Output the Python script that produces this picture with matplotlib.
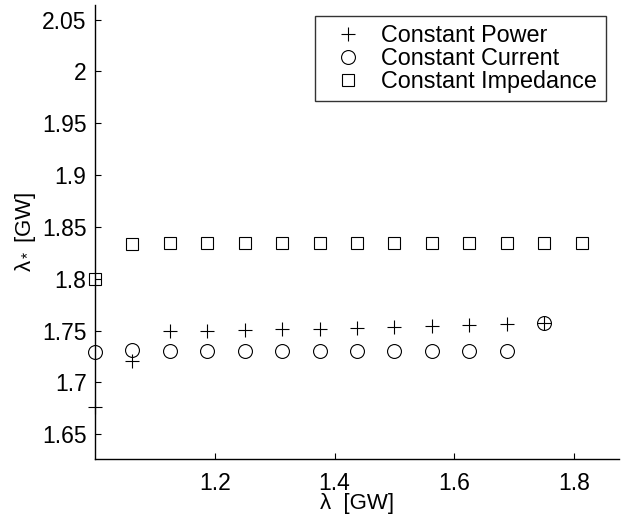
import numpy as np
import matplotlib
matplotlib.use("Agg")
import matplotlib.pyplot as plt

plt.rcParams['font.family'] = ['Liberation Sans', 'DejaVu Sans']
plt.rcParams['mathtext.fontset'] = 'custom'
plt.rcParams['mathtext.rm'] = 'Liberation Sans'
plt.rcParams['mathtext.it'] = 'Liberation Sans'

# load parameter lambda [GW]
lam_power = [1.0, 1.0625, 1.125, 1.1875, 1.25, 1.3125, 1.375, 1.4375,
             1.5, 1.5625, 1.625, 1.6875, 1.75]
val_power = [1.676, 1.721, 1.7493, 1.7500, 1.7507, 1.7513, 1.7518, 1.7525,
             1.7535, 1.7545, 1.7555, 1.7565, 1.7575]

lam_current = [1.0, 1.0625, 1.125, 1.1875, 1.25, 1.3125, 1.375, 1.4375,
               1.5, 1.5625, 1.625, 1.6875, 1.75]
val_current = [1.7298, 1.7312, 1.7302, 1.7302, 1.7302, 1.7302, 1.7302, 1.7302,
               1.7302, 1.7302, 1.7302, 1.7302, 1.7575]

lam_imped = [1.0, 1.0625, 1.125, 1.1875, 1.25, 1.3125, 1.375, 1.4375,
             1.5, 1.5625, 1.625, 1.6875, 1.75, 1.8125]
val_imped = [1.8, 1.8339, 1.8341, 1.8343, 1.8345, 1.8346, 1.8347, 1.8348,
             1.8349, 1.8349, 1.8349, 1.8349, 1.8349, 1.8349]

xticks = [1.2, 1.4, 1.6, 1.8]
yticks = [1.65, 1.7, 1.75, 1.8, 1.85, 1.9, 1.95, 2.0, 2.05]
ytick_labels = ['1.65', '1.7', '1.75', '1.8', '1.85', '1.9', '1.95', '2', '2.05']

fig = plt.figure(figsize=(6.37, 5.17), dpi=100)
ax = fig.add_axes([0.149, 0.112, 0.823, 0.878])

ax.plot(lam_power, val_power, linestyle='none', marker='+', color='black',
        markersize=10, markeredgewidth=0.8, clip_on=False, label='Constant Power')
ax.plot(lam_current, val_current, linestyle='none', marker='o', color='black',
        markerfacecolor='none', markersize=10, markeredgewidth=0.8, clip_on=False,
        label='Constant Current')
ax.plot(lam_imped, val_imped, linestyle='none', marker='s', color='black',
        markerfacecolor='none', markersize=8, markeredgewidth=0.8, clip_on=False,
        label='Constant Impedance')

ax.set_xlim(1.0, 1.875)
ax.set_ylim(1.626, 2.064)
ax.set_xticks(xticks)
ax.set_xticklabels([str(t) for t in xticks])
ax.set_yticks(yticks)
ax.set_yticklabels(ytick_labels)
ax.tick_params(direction='in', length=4, width=0.8, labelsize=16.5)
ax.tick_params(axis='y', pad=6)
ax.tick_params(axis='x', pad=9)

for side in ['top', 'right']:
    ax.spines[side].set_visible(False)
for side in ['left', 'bottom']:
    ax.spines[side].set_linewidth(1.0)

ax.set_xlabel('λ  [GW]', fontsize=16, labelpad=-1)
ax.set_ylabel(r'$\lambda_*$ [GW]', fontsize=16, labelpad=3)

leg = ax.legend(loc='upper right', bbox_to_anchor=(0.974, 0.976), fontsize=16.8,
                frameon=True, fancybox=False, edgecolor='black',
                handlelength=2.15, handletextpad=0.34, borderpad=0.35,
                labelspacing=0.0, borderaxespad=0)
leg.get_frame().set_linewidth(1.0)

fig.savefig('out.png', dpi=100)
